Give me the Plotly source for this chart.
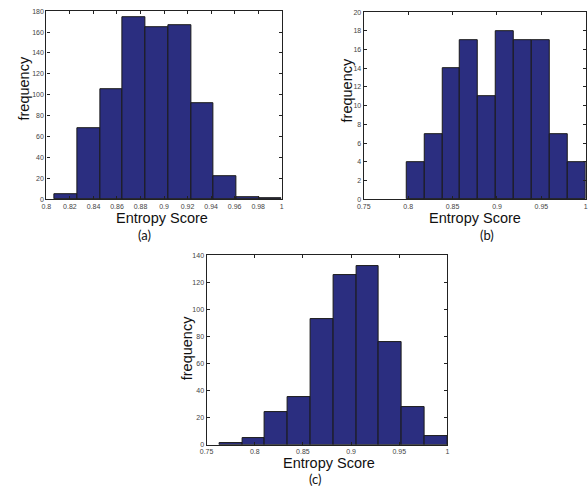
import plotly.graph_objects as go

# ---- data ----
counts_a = [5, 68, 105, 174, 165, 167, 92, 22, 2, 1]
bin_start_a, bin_width_a = 0.8070, 0.0193

counts_b = [4, 7, 14, 17, 11, 18, 17, 17, 7, 4]
bin_start_b, bin_width_b = 0.7980, 0.0202

counts_c = [1, 5, 24, 35, 93, 125, 132, 76, 28, 6]
bin_start_c, bin_width_c = 0.7633, 0.02367

xt_a = [0.8, 0.82, 0.84, 0.86, 0.88, 0.9, 0.92, 0.94, 0.96, 0.98, 1.0]
xt_a_lbl = ["0.8", "0.82", "0.84", "0.86", "0.88", "0.9", "0.92", "0.94", "0.96", "0.98", "1"]
yt_a = [0, 20, 40, 60, 80, 100, 120, 140, 160, 180]

xt_bc = [0.75, 0.8, 0.85, 0.9, 0.95, 1.0]
xt_bc_lbl = ["0.75", "0.8", "0.85", "0.9", "0.95", "1"]
yt_b = [0, 2, 4, 6, 8, 10, 12, 14, 16, 18, 20]
yt_c = [0, 20, 40, 60, 80, 100, 120, 140]

panel_labels = ["(a)", "(b)", "(c)"]
x_title = "Entropy Score"
y_title = "frequency"

W, H = 588, 493
BAR = "#2b2e80"
EDGE = "#1a1a1a"


def centers(start, width, n):
    return [start + width * (i + 0.5) for i in range(n)]


fig = go.Figure()
panels = [
    ("x", "y", counts_a, bin_start_a, bin_width_a),
    ("x2", "y2", counts_b, bin_start_b, bin_width_b),
    ("x3", "y3", counts_c, bin_start_c, bin_width_c),
]
for xa, ya, cnt, s, w in panels:
    fig.add_trace(go.Bar(
        x=centers(s, w, len(cnt)), y=cnt, width=[w] * len(cnt),
        xaxis=xa, yaxis=ya, marker=dict(color=BAR, line=dict(color=EDGE, width=1)),
        showlegend=False,
    ))


def px_dom(a, b, total):
    return [a / total, b / total]


def py_dom(top, bottom):
    return [1 - bottom / H, 1 - top / H]


SANS = "Liberation Sans"
axcommon = dict(showline=True, linecolor="#222", linewidth=1.3, mirror="allticks",
                ticks="inside", ticklen=3, tickcolor="#222", showgrid=False, zeroline=False,
                tickfont=dict(family=SANS, size=7, color="#444"))

fig.update_layout(
    width=W, height=H, margin=dict(l=0, r=0, t=0, b=0),
    paper_bgcolor="white", plot_bgcolor="white", bargap=0,
    xaxis=dict(domain=px_dom(40, 279, W), range=[0.8, 1.0], tickvals=xt_a, ticktext=xt_a_lbl,
               anchor="y", ticklabelstandoff=0, **axcommon),
    yaxis=dict(domain=py_dom(7.3, 198), range=[0, 180], tickvals=yt_a, anchor="x", **axcommon),
    xaxis2=dict(domain=px_dom(362.3, 587.8, W), range=[0.75, 1.0], tickvals=xt_bc, ticktext=xt_bc_lbl,
                anchor="y2", ticklabelstandoff=0, **axcommon),
    yaxis2=dict(domain=py_dom(8.3, 198), range=[0, 20], tickvals=yt_b, anchor="x2", **axcommon),
    xaxis3=dict(domain=px_dom(202.7, 447.3, W), range=[0.75, 1.0], tickvals=xt_bc, ticktext=xt_bc_lbl,
                anchor="y3", ticklabelstandoff=0, **axcommon),
    yaxis3=dict(domain=py_dom(254.7, 447), range=[0, 140], tickvals=yt_c, anchor="x3", **axcommon),
)

tfont = dict(family=SANS, size=14.5, color="#111")
lfont = dict(family="Lato", size=13, color="#111")


def ann(text, x, y, font, angle=0):
    fig.add_annotation(text=text, x=x / W, y=1 - y / H, xref="paper", yref="paper",
                       showarrow=False, font=font, textangle=angle,
                       xanchor="center", yanchor="middle")


ann(x_title, 157, 217.5, tfont)
ann(y_title, 17, 86, tfont, -90)
ann(panel_labels[0], 140, 234, lfont)

ann(x_title, 475, 217, tfont)
ann(y_title, 345, 88, tfont, -90)
ann(panel_labels[1], 487, 234, lfont)

ann(x_title, 327, 466, tfont)
ann(y_title, 183, 349, tfont, -90)
ann(panel_labels[2], 313, 482, lfont)

fig.write_html("out.html")
